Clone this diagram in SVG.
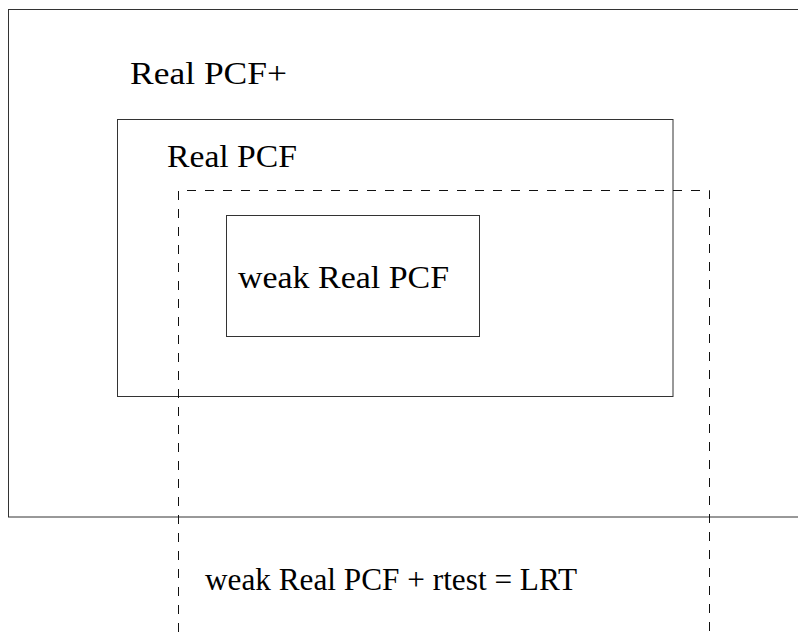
<svg xmlns="http://www.w3.org/2000/svg" width="798" height="637" viewBox="0 0 798 637">
<style>
.box{fill:none;stroke:#333;stroke-width:1}
.dash{fill:none;stroke:#111;stroke-width:1;stroke-dasharray:9 9}
.t{font-family:"Liberation Serif","DejaVu Serif",serif;font-size:32px;fill:#000}
</style>
<rect width="798" height="637" fill="#fff"/>
<g id="realpcfplus">
<rect class="box" x="8.5" y="9.5" width="800" height="507.5"/>
<text class="t" x="130" y="84" textLength="157" lengthAdjust="spacingAndGlyphs">Real PCF+</text>
</g>
<g id="realpcf">
<rect class="box" x="117.5" y="119.5" width="555.5" height="277"/>
<text class="t" x="167" y="167" textLength="130" lengthAdjust="spacingAndGlyphs">Real PCF</text>
</g>
<g id="lrt">
<path class="dash" d="M178.5,650 V190.5 H709.5 V650"/>
<text class="t" x="205" y="590" textLength="372" lengthAdjust="spacingAndGlyphs">weak Real PCF + rtest = LRT</text>
</g>
<g id="weakrealpcf">
<rect class="box" x="226.5" y="215.5" width="253" height="121"/>
<text class="t" x="238" y="288" textLength="211" lengthAdjust="spacingAndGlyphs">weak Real PCF</text>
</g>
<g id="connectors"/>
</svg>
